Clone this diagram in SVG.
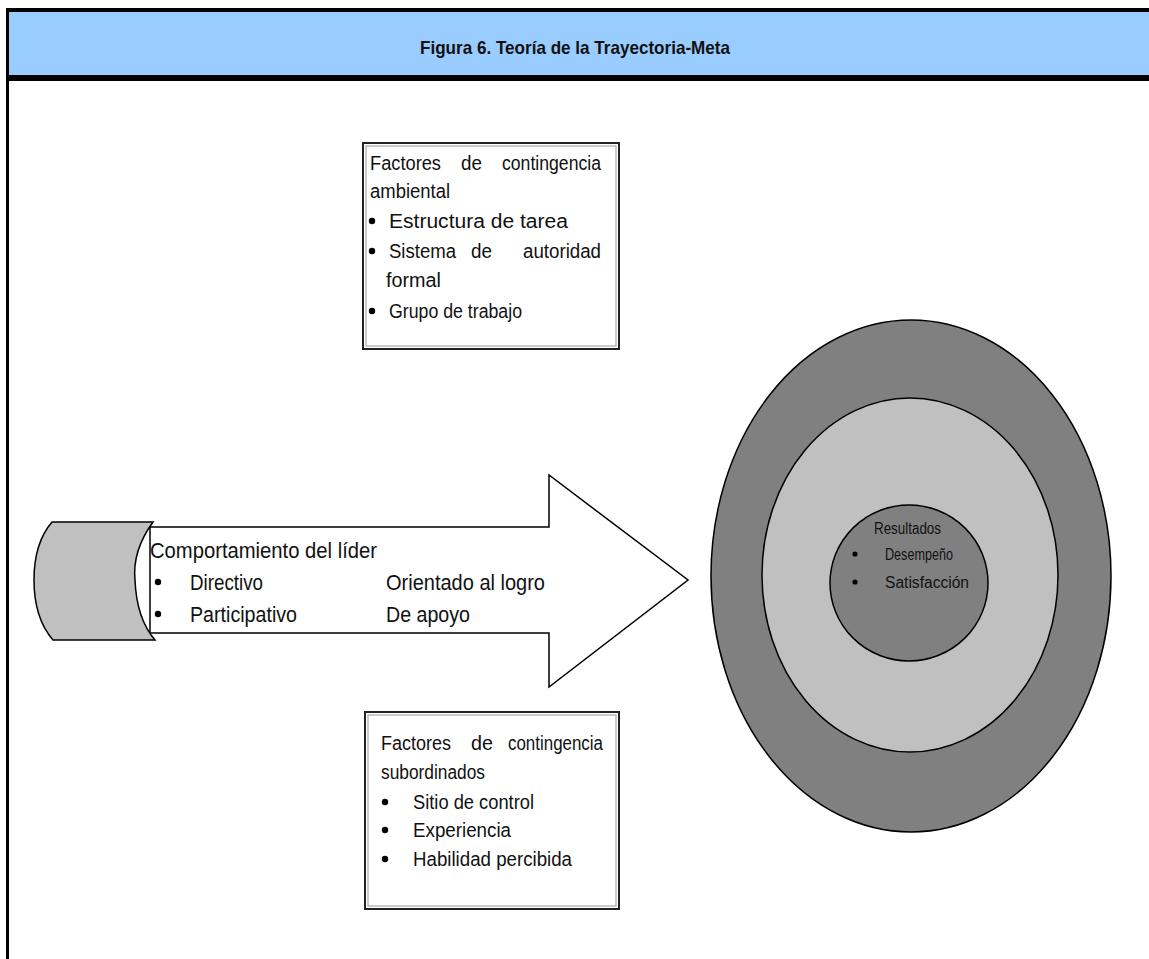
<svg xmlns="http://www.w3.org/2000/svg" width="1149" height="959" viewBox="0 0 1149 959">
  <style>
    text { font-family: "Liberation Sans Narrow", "Liberation Sans", Arial, sans-serif; fill: #111; }
    .title { font-size: 19px; font-weight: bold; }
    .box { font-size: 20px; }
    .arrowtxt { font-size: 22px; }
    .res { font-size: 16px; }
    .dot { fill: #000; }
    .frame { fill: #fff; stroke: #222; stroke-width: 2; }
    .frame-in { fill: none; stroke: #999; stroke-width: 1; }
    .shape { stroke: #000; stroke-width: 1.5; }
  </style>

  <defs>
    <circle id="bullet" r="3.2" class="dot"/>
    <circle id="bullet-sm" r="2.6" class="dot"/>
  </defs>

  <rect width="1149" height="959" fill="#fff"/>

  <!-- heading band -->
  <g id="header">
    <rect x="6" y="8" width="1143" height="73" fill="#000"/>
    <rect x="9" y="12" width="1140" height="63" fill="#99CCFF"/>
    <rect x="6" y="81" width="3" height="878" fill="#000"/>
    <text class="title" x="575" y="54" text-anchor="middle" textLength="310" lengthAdjust="spacingAndGlyphs">Figura 6. Teoría de la Trayectoria-Meta</text>
  </g>

  <!-- environmental contingency factors -->
  <g id="env-factors">
    <rect class="frame" x="363" y="143" width="256" height="206"/>
    <rect class="frame-in" x="366" y="146" width="250" height="200"/>
    <text class="box" x="370" y="170" textLength="71" lengthAdjust="spacingAndGlyphs">Factores</text>
    <text class="box" x="461" y="170" textLength="21" lengthAdjust="spacingAndGlyphs">de</text>
    <text class="box" x="502" y="170" textLength="99" lengthAdjust="spacingAndGlyphs">contingencia</text>
    <text class="box" x="370" y="198" textLength="80" lengthAdjust="spacingAndGlyphs">ambiental</text>
    <use href="#bullet" x="372" y="221"/>
    <text class="box" x="389" y="228" textLength="179" lengthAdjust="spacingAndGlyphs">Estructura de tarea</text>
    <use href="#bullet" x="372" y="251"/>
    <text class="box" x="389" y="258" textLength="67" lengthAdjust="spacingAndGlyphs">Sistema</text>
    <text class="box" x="471" y="258" textLength="21" lengthAdjust="spacingAndGlyphs">de</text>
    <text class="box" x="523" y="258" textLength="78" lengthAdjust="spacingAndGlyphs">autoridad</text>
    <text class="box" x="386" y="287" textLength="55" lengthAdjust="spacingAndGlyphs">formal</text>
    <use href="#bullet" x="372" y="311"/>
    <text class="box" x="389" y="318" textLength="133" lengthAdjust="spacingAndGlyphs">Grupo de trabajo</text>
  </g>

  <!-- subordinate contingency factors -->
  <g id="sub-factors">
    <rect class="frame" x="365" y="712" width="254" height="197"/>
    <rect class="frame-in" x="368" y="715" width="248" height="191"/>
    <text class="box" x="381" y="750" textLength="70" lengthAdjust="spacingAndGlyphs">Factores</text>
    <text class="box" x="471" y="750" textLength="22" lengthAdjust="spacingAndGlyphs">de</text>
    <text class="box" x="508" y="750" textLength="95" lengthAdjust="spacingAndGlyphs">contingencia</text>
    <text class="box" x="381" y="779" textLength="104" lengthAdjust="spacingAndGlyphs">subordinados</text>
    <use href="#bullet" x="385" y="802"/>
    <text class="box" x="413" y="809" textLength="121" lengthAdjust="spacingAndGlyphs">Sitio de control</text>
    <use href="#bullet" x="385" y="830"/>
    <text class="box" x="413" y="837" textLength="98" lengthAdjust="spacingAndGlyphs">Experiencia</text>
    <use href="#bullet" x="385" y="859"/>
    <text class="box" x="413" y="866" textLength="159" lengthAdjust="spacingAndGlyphs">Habilidad percibida</text>
  </g>

  <!-- leader behaviour arrow -->
  <g id="leader-arrow">
    <path class="shape" fill="#fff" d="M150,527 L549,527 L549,475 L688,580 L549,687 L549,633 L150,633 Z"/>
    <path class="shape" fill="#C0C0C0" d="M52,522 L153,522 C140,540 133,560 135,580 C136,605 142,625 155,640 L53,640 C40,625 34,605 34,580 C34,556 40,536 52,522 Z"/>
    <text class="arrowtxt" x="150" y="558" textLength="227" lengthAdjust="spacingAndGlyphs">Comportamiento del líder</text>
    <use href="#bullet" x="158" y="582"/>
    <text class="arrowtxt" x="190" y="590" textLength="73" lengthAdjust="spacingAndGlyphs">Directivo</text>
    <text class="arrowtxt" x="386" y="590" textLength="159" lengthAdjust="spacingAndGlyphs">Orientado al logro</text>
    <use href="#bullet" x="158" y="614"/>
    <text class="arrowtxt" x="190" y="622" textLength="107" lengthAdjust="spacingAndGlyphs">Participativo</text>
    <text class="arrowtxt" x="386" y="622" textLength="84" lengthAdjust="spacingAndGlyphs">De apoyo</text>
  </g>

  <!-- concentric outcome rings -->
  <g id="outcomes">
    <ellipse class="shape" cx="911" cy="576" rx="200" ry="256" fill="#808080"/>
    <ellipse class="shape" cx="910" cy="575" rx="148" ry="177" fill="#C0C0C0"/>
    <ellipse class="shape" cx="909" cy="583" rx="79" ry="78" fill="#808080"/>
    <text class="res" x="874" y="534" textLength="67" lengthAdjust="spacingAndGlyphs">Resultados</text>
    <use href="#bullet-sm" x="855" y="554"/>
    <text class="res" x="885" y="560" textLength="68" lengthAdjust="spacingAndGlyphs">Desempeño</text>
    <use href="#bullet-sm" x="855" y="582"/>
    <text class="res" x="885" y="588" textLength="84" lengthAdjust="spacingAndGlyphs">Satisfacción</text>
  </g>

  <g id="connectors"/>
</svg>
